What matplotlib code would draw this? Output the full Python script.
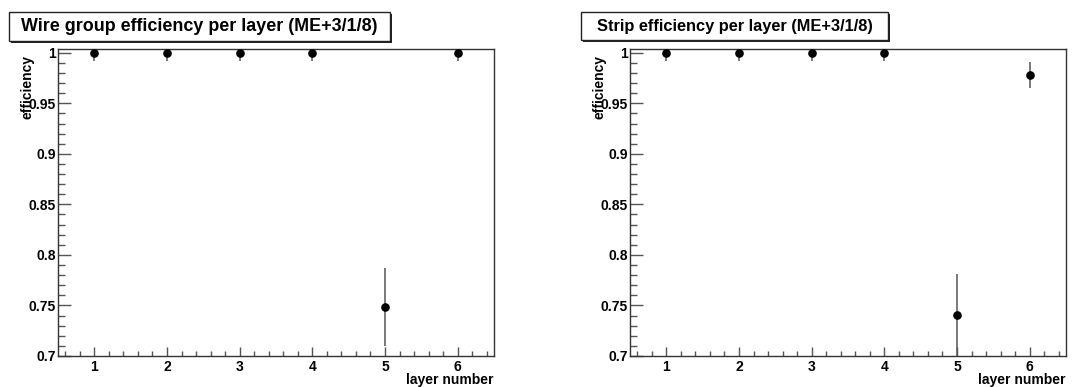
"""
plot.py
Per-layer wire group / strip efficiency for ME+3/1/8, drawn ROOT-style.
"""
import numpy as np
import matplotlib
matplotlib.use("Agg")
import matplotlib.pyplot as plt
from matplotlib.patches import Rectangle
from matplotlib.ticker import MultipleLocator, FuncFormatter

plt.rcParams["font.family"] = ["Liberation Sans", "DejaVu Sans"]
plt.rcParams["font.weight"] = "bold"

layers = [1, 2, 3, 4, 5, 6]
wire_eff = [1.0, 1.0, 1.0, 1.0, 0.748, 1.0]
wire_err_lo = [0.008, 0.008, 0.008, 0.008, 0.038, 0.008]
wire_err_hi = [0.0, 0.0, 0.0, 0.0, 0.039, 0.0]
strip_eff = [1.0, 1.0, 1.0, 1.0, 0.741, 0.978]
strip_err_lo = [0.008, 0.008, 0.008, 0.008, 0.041, 0.013]
strip_err_hi = [0.0, 0.0, 0.0, 0.0, 0.040, 0.013]
titles = ["Wire group efficiency per layer (ME+3/1/8)",
          "Strip efficiency per layer (ME+3/1/8)"]

W, H = 1088, 387
fig = plt.figure(figsize=(W / 100, H / 100), dpi=100)

def px(x0, y0, x1, y1):
    # pixel box (top-left origin) -> figure fraction rect
    return [x0 / W, 1 - y1 / H, (x1 - x0) / W, (y1 - y0) / H]

# ROOT pave auto-sizes the title text to its box, hence different sizes
panels = [
    (px(58, 49, 494, 356), (9, 12, 390, 41), 12.9, wire_eff, wire_err_lo, wire_err_hi, titles[0]),
    (px(630, 49, 1066, 356), (581, 12, 888, 40), 11.8, strip_eff, strip_err_lo, strip_err_hi, titles[1]),
]

for rect, tbox, tsize, eff, elo, ehi, title in panels:
    ax = fig.add_axes(rect)
    ax.errorbar(layers, eff, yerr=[elo, ehi], fmt="o", color="black", ms=5.2,
                ecolor="#555555", elinewidth=1.1, capsize=0, zorder=3, clip_on=True)
    ax.set_xlim(0.5, 6.5)
    ax.set_ylim(0.7, 1.0037)
    ax.xaxis.set_major_locator(MultipleLocator(1))
    ax.xaxis.set_minor_locator(MultipleLocator(0.2))
    ax.yaxis.set_major_locator(MultipleLocator(0.05))
    ax.yaxis.set_minor_locator(MultipleLocator(0.01))
    ax.yaxis.set_major_formatter(FuncFormatter(lambda v, p: f"{v:g}"))
    ax.tick_params(axis="both", which="both", direction="in", color="#555555",
                   right=False, top=False, labelsize=10)
    ax.tick_params(axis="y", which="major", length=9.5, width=1, pad=1.5)
    ax.tick_params(axis="y", which="minor", length=5, width=1)
    ax.tick_params(axis="x", which="major", length=6.5, width=1, pad=3)
    ax.tick_params(axis="x", which="minor", length=3.8, width=1)
    for sp in ax.spines.values():
        sp.set_color("#333333")
        sp.set_linewidth(1)
    ax.set_ylabel("efficiency", fontsize=10, fontweight="bold")
    ax.yaxis.set_label_coords(-0.053, 0.98)
    ax.yaxis.label.set_horizontalalignment("right")
    ax.set_xlabel("layer number", fontsize=10, fontweight="bold")
    ax.xaxis.set_label_coords(1.0, -0.055)
    ax.xaxis.label.set_horizontalalignment("right")

    # title pave with shadow
    x0, y0, x1, y1 = tbox
    fig.patches.append(Rectangle((x0 / W + 2 / W, 1 - y1 / H - 2 / H), (x1 - x0) / W, (y1 - y0) / H,
                                 transform=fig.transFigure, facecolor="#222222",
                                 edgecolor="none", zorder=1))
    fig.patches.append(Rectangle((x0 / W, 1 - y1 / H), (x1 - x0) / W, (y1 - y0) / H,
                                 transform=fig.transFigure, facecolor="white",
                                 edgecolor="#222222", linewidth=1, zorder=2))
    fig.text((x0 + x1) / 2 / W, 1 - (y0 + y1) / 2 / H, title, ha="center", va="center",
             fontsize=tsize, fontweight="bold", zorder=3)

fig.savefig("out.png", dpi=100)
